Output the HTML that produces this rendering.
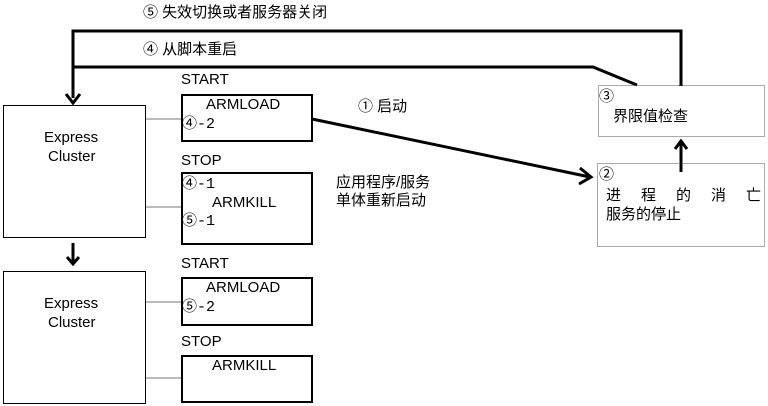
<!DOCTYPE html>
<html><head><meta charset="utf-8"><style>
html,body{margin:0;padding:0;background:#fff;width:768px;height:406px;overflow:hidden}
text{font-family:"Liberation Sans","Noto Sans CJK JP",sans-serif;font-size:15px;fill:#000}
.m{font-family:"Liberation Mono","Noto Sans CJK JP",monospace;font-size:15px}
</style></head><body>
<svg width="768" height="406" viewBox="0 0 768 406" xmlns="http://www.w3.org/2000/svg">
<g fill="none" stroke="#000">
<polyline points="73,98 73,31 681,31 681,86" stroke-width="3"/>
<polyline points="73,67 593,67 637,85" stroke-width="3"/>
<polyline points="66,94 73,103 80,94" stroke-width="3"/>
<rect x="3.5" y="105.5" width="142" height="132" stroke-width="1"/>
<rect x="3.5" y="271.5" width="142" height="132" stroke-width="1"/>
<line x1="73" y1="243" x2="73" y2="263" stroke-width="3"/>
<polyline points="67,257 73,264 79,257" stroke-width="3"/>
<line x1="146" y1="119" x2="181" y2="119" stroke="#777"/>
<line x1="146" y1="207" x2="181" y2="207" stroke="#777"/>
<line x1="146" y1="302" x2="181" y2="302" stroke="#777"/>
<line x1="146" y1="378" x2="181" y2="378" stroke="#777"/>
<rect x="182" y="95" width="130" height="46" stroke-width="2"/>
<rect x="182" y="173" width="130" height="71" stroke-width="2"/>
<rect x="182" y="278" width="130" height="47" stroke-width="2"/>
<rect x="182" y="356" width="130" height="46" stroke-width="2"/>
<rect x="598.5" y="85.5" width="166" height="51" stroke="#555" stroke-dasharray="1,1"/>
<rect x="597.5" y="163.5" width="167" height="83" stroke="#555" stroke-dasharray="1,1"/>
<line x1="312" y1="119" x2="590" y2="177" stroke-width="3"/>
<polyline points="580,168 591,177 579,184" stroke-width="3"/>
<line x1="681" y1="172" x2="681" y2="142" stroke-width="3"/>
<polyline points="675,149 681,141 687,149" stroke-width="3"/>
</g>
<text x="143" y="17">⑤ 失效切换或者服务器关闭</text>
<text x="143" y="54">④ 从脚本重启</text>
<text x="181" y="84">START</text>
<text x="181" y="165">STOP</text>
<text x="181" y="268">START</text>
<text x="181" y="346">STOP</text>
<text x="206" y="109">ARMLOAD</text>
<text x="182" y="128" class="m">④-2</text>
<text x="182" y="188" class="m">④-1</text>
<text x="212" y="207">ARMKILL</text>
<text x="182" y="225" class="m">⑤-1</text>
<text x="206" y="292">ARMLOAD</text>
<text x="182" y="311" class="m">⑤-2</text>
<text x="212" y="370">ARMKILL</text>
<text x="44" y="142">Express</text>
<text x="48" y="161">Cluster</text>
<text x="44" y="308">Express</text>
<text x="48" y="327">Cluster</text>
<text x="358" y="111">① 启动</text>
<text x="336" y="187">应用程序/服务</text>
<text x="336" y="205">单体重新启动</text>
<text x="599" y="101">③</text>
<text x="613" y="121">界限值检查</text>
<text x="599" y="179">②</text>
<text x="606" y="200" textLength="155" lengthAdjust="spacing">进 程 的 消 亡</text>
<text x="606" y="219">服务的停止</text>
</svg>
</body></html>
